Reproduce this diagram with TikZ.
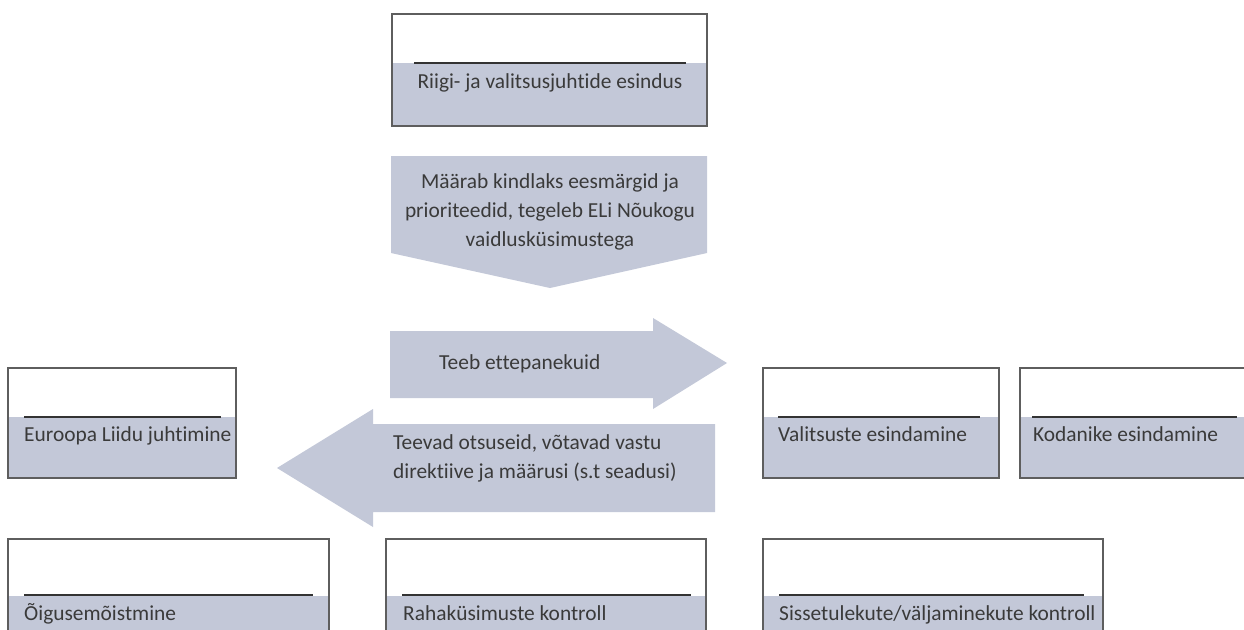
\documentclass[tikz,border=0pt]{standalone}
\usepackage{fontspec}
\setmainfont{Carlito}[Ligatures=NoCommon]
\definecolor{boxfill}{HTML}{C3C8D8}
\definecolor{boxline}{HTML}{5E5E5E}
\definecolor{sepline}{HTML}{333333}
\definecolor{txt}{HTML}{3A3A3A}
\tikzset{
  frame/.style={draw=boxline, line width=1.3pt},
  lower/.style={fill=boxfill},
  sep/.style={draw=sepline, line width=1.1pt},
  arrowshape/.style={fill=boxfill},
  lbl/.style={text=txt, font=\fontsize{21.4}{29}\selectfont, inner sep=0pt},
}
\begin{document}
\begin{tikzpicture}[x=1pt, y=-1pt]
\path[use as bounding box] (0,0) rectangle (1244,629);
\clip (0,0) rectangle (1244,629);
\fill[white] (0,0) rectangle (1244,629);

% --- top box
\coordinate (t1) at (392,14); \coordinate (t2) at (707,126);
\fill[lower] (392,63) rectangle (t2);
\draw[frame] (t1) rectangle (t2);
\coordinate (tsa) at (414,63); \coordinate (tsb) at (686,63);
\draw[sep] (tsa) -- (tsb);
\node[lbl, anchor=mid] (ttop) at (550,86) {Riigi- ja valitsusjuhtide esindus};

% --- down arrow
\fill[arrowshape] (391,156) -- (707,156) -- (707,253) -- (550,288) -- (391,253) -- cycle;
\node[lbl, align=center] (tdown) at (550,212) {Määrab kindlaks eesmärgid ja\\prioriteedid, tegeleb ELi Nõukogu\\vaidlusküsimustega};

% --- right arrow
\fill[arrowshape] (390,331) -- (653,331) -- (653,318) -- (727,363) -- (653,409) -- (653,398) -- (390,398) -- cycle;
\node[lbl, anchor=mid west] (tright) at (439,367) {Teeb ettepanekuid};

% --- left arrow
\fill[arrowshape] (715,424) -- (373,424) -- (373,409) -- (277,468) -- (373,527) -- (373,512) -- (715,512) -- cycle;
\node[lbl, align=left, anchor=west] (tleft) at (393,458) {Teevad otsuseid, võtavad vastu\\direktiive ja määrusi (s.t seadusi)};

% --- Euroopa Liidu juhtimine
\fill[lower] (8,417) rectangle (236,478);
\draw[frame] (8,368) rectangle (236,478);
\coordinate (esa) at (24,417); \coordinate (esb) at (221,417);
\draw[sep] (esa) -- (esb);
\node[lbl, anchor=mid west] (teu) at (24,439) {Euroopa Liidu juhtimine};

% --- Valitsuste esindamine
\fill[lower] (763,417) rectangle (999,478);
\draw[frame] (763,368) rectangle (999,478);
\coordinate (vsa) at (778,417); \coordinate (vsb) at (980,417);
\draw[sep] (vsa) -- (vsb);
\node[lbl, anchor=mid west] (tval) at (778,439) {Valitsuste esindamine};

% --- Kodanike esindamine
\fill[lower] (1020,417) rectangle (1252,478);
\draw[frame] (1020,368) rectangle (1252,478);
\coordinate (ksa) at (1032,417); \coordinate (ksb) at (1237,417);
\draw[sep] (ksa) -- (ksb);
\node[lbl, anchor=mid west] (tkod) at (1033,439) {Kodanike esindamine};

% --- bottom row
\fill[lower] (8,596) rectangle (329,640);
\draw[frame] (8,539) rectangle (329,640);
\coordinate (osa) at (24,595); \coordinate (osb) at (313,595);
\draw[sep] (osa) -- (osb);
\node[lbl, anchor=mid west] (tous) at (24,618) {Õigusemõistmine};

\fill[lower] (386,596) rectangle (706,640);
\draw[frame] (386,539) rectangle (706,640);
\coordinate (rsa) at (402,595); \coordinate (rsb) at (691,595);
\draw[sep] (rsa) -- (rsb);
\node[lbl, anchor=mid west] (traha) at (403,618) {Rahaküsimuste kontroll};

\fill[lower] (763,596) rectangle (1103,640);
\draw[frame] (763,539) rectangle (1103,640);
\coordinate (ssa) at (779,595); \coordinate (ssb) at (1084,595);
\draw[sep] (ssa) -- (ssb);
\node[lbl, anchor=mid west] (tsis) at (779,618) {Sissetulekute/väljaminekute kontroll};
\end{tikzpicture}
\end{document}
